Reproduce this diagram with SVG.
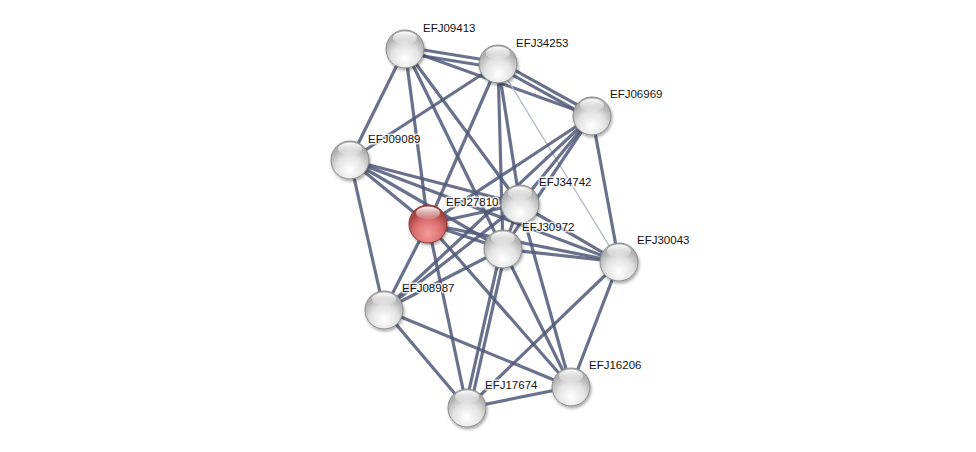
<svg xmlns="http://www.w3.org/2000/svg" width="976" height="452" viewBox="0 0 976 452">
<defs>
<style>
.e{stroke:#4f5878;stroke-width:3.2;stroke-opacity:0.85;fill:none;stroke-linecap:round}
.t{stroke:#b3b8c8;stroke-width:1.3;fill:none}
.lbl{font-family:"Liberation Sans",Arial,sans-serif;font-size:11.5px;fill:#111;stroke:#fff;stroke-width:3;stroke-opacity:0.8;paint-order:stroke;stroke-linejoin:round}
.ball{fill:url(#gw);stroke:#8a8a8a;stroke-width:1}
.red{fill:url(#gr);stroke:#8a3838;stroke-width:1}
.hl{fill:url(#gh)}
</style>
<radialGradient id="gw" cx="50%" cy="75%" r="60%">
<stop offset="0" stop-color="#ffffff"/>
<stop offset="0.6" stop-color="#e2e2e2"/>
<stop offset="1" stop-color="#b0b0b0"/>
</radialGradient>
<radialGradient id="gr" cx="50%" cy="75%" r="60%">
<stop offset="0" stop-color="#f49a9a"/>
<stop offset="0.6" stop-color="#dc7070"/>
<stop offset="1" stop-color="#a84444"/>
</radialGradient>
<linearGradient id="gh" x1="0" y1="0" x2="0" y2="1">
<stop offset="0" stop-color="#ffffff" stop-opacity="0.95"/>
<stop offset="1" stop-color="#ffffff" stop-opacity="0.1"/>
</linearGradient>
<filter id="sh" x="-30%" y="-30%" width="160%" height="160%">
<feDropShadow dx="1" dy="2" stdDeviation="1.5" flood-color="#000" flood-opacity="0.35"/>
</filter>
</defs>
<rect width="976" height="452" fill="#fff"/>
<g id="edges">
<line class="e" x1="405" y1="47" x2="498" y2="62"/>
<line class="e" x1="405" y1="53" x2="498" y2="68"/>
<line class="e" x1="405" y1="49" x2="592" y2="116"/>
<line class="e" x1="405" y1="49" x2="350" y2="160"/>
<line class="e" x1="405" y1="49" x2="428" y2="224"/>
<line class="e" x1="405" y1="49" x2="503" y2="249"/>
<line class="e" x1="405" y1="49" x2="520" y2="204"/>
<line class="e" x1="498" y1="61" x2="592" y2="113"/>
<line class="e" x1="498" y1="67" x2="592" y2="119"/>
<line class="e" x1="498" y1="64" x2="350" y2="160"/>
<line class="e" x1="498" y1="64" x2="428" y2="224"/>
<line class="e" x1="498" y1="64" x2="520" y2="204"/>
<line class="e" x1="498" y1="64" x2="503" y2="249"/>
<line class="t" x1="498" y1="64" x2="619" y2="262"/>
<line class="e" x1="592" y1="116" x2="428" y2="224"/>
<line class="e" x1="592" y1="116" x2="520" y2="204"/>
<line class="e" x1="592" y1="116" x2="503" y2="249"/>
<line class="e" x1="592" y1="116" x2="384" y2="310"/>
<line class="e" x1="592" y1="116" x2="619" y2="262"/>
<line class="e" x1="350" y1="160" x2="428" y2="224"/>
<line class="e" x1="350" y1="160" x2="520" y2="204"/>
<line class="e" x1="350" y1="160" x2="503" y2="249"/>
<line class="e" x1="350" y1="160" x2="619" y2="262"/>
<line class="e" x1="350" y1="160" x2="384" y2="310"/>
<line class="e" x1="428" y1="224" x2="520" y2="204"/>
<line class="e" x1="428" y1="224" x2="503" y2="249"/>
<line class="e" x1="428" y1="224" x2="619" y2="262"/>
<line class="e" x1="428" y1="224" x2="384" y2="310"/>
<line class="e" x1="428" y1="224" x2="571" y2="387"/>
<line class="e" x1="428" y1="224" x2="467" y2="408"/>
<line class="e" x1="520" y1="204" x2="503" y2="249"/>
<line class="e" x1="520" y1="204" x2="619" y2="262"/>
<line class="e" x1="520" y1="204" x2="384" y2="310"/>
<line class="e" x1="520" y1="204" x2="571" y2="387"/>
<line class="e" x1="503" y1="249" x2="619" y2="262"/>
<line class="e" x1="503" y1="249" x2="384" y2="310"/>
<line class="e" x1="503" y1="249" x2="571" y2="387"/>
<line class="e" x1="501" y1="249" x2="465" y2="408"/>
<line class="e" x1="506" y1="249" x2="470" y2="408"/>
<line class="e" x1="619" y1="262" x2="571" y2="387"/>
<line class="e" x1="619" y1="262" x2="467" y2="408"/>
<line class="e" x1="384" y1="310" x2="571" y2="387"/>
<line class="e" x1="384" y1="310" x2="467" y2="408"/>
<line class="e" x1="571" y1="387" x2="467" y2="408"/>
</g>
<g id="n_EFJ09413" filter="url(#sh)"><circle class="ball" cx="405" cy="49" r="19"/><ellipse class="hl" cx="405" cy="38" rx="12" ry="6.5"/></g>
<g id="n_EFJ34253" filter="url(#sh)"><circle class="ball" cx="498" cy="64" r="19"/><ellipse class="hl" cx="498" cy="53" rx="12" ry="6.5"/></g>
<g id="n_EFJ06969" filter="url(#sh)"><circle class="ball" cx="592" cy="116" r="19"/><ellipse class="hl" cx="592" cy="105" rx="12" ry="6.5"/></g>
<g id="n_EFJ09089" filter="url(#sh)"><circle class="ball" cx="350" cy="160" r="19"/><ellipse class="hl" cx="350" cy="149" rx="12" ry="6.5"/></g>
<g id="n_EFJ34742" filter="url(#sh)"><circle class="ball" cx="520" cy="204" r="19"/><ellipse class="hl" cx="520" cy="193" rx="12" ry="6.5"/></g>
<g id="n_EFJ27810" filter="url(#sh)"><circle class="red" cx="428" cy="224" r="19"/><ellipse class="hl" cx="428" cy="213" rx="12" ry="6.5"/></g>
<g id="n_EFJ30972" filter="url(#sh)"><circle class="ball" cx="503" cy="249" r="19"/><ellipse class="hl" cx="503" cy="238" rx="12" ry="6.5"/></g>
<g id="n_EFJ30043" filter="url(#sh)"><circle class="ball" cx="619" cy="262" r="19"/><ellipse class="hl" cx="619" cy="251" rx="12" ry="6.5"/></g>
<g id="n_EFJ08987" filter="url(#sh)"><circle class="ball" cx="384" cy="310" r="19"/><ellipse class="hl" cx="384" cy="299" rx="12" ry="6.5"/></g>
<g id="n_EFJ16206" filter="url(#sh)"><circle class="ball" cx="571" cy="387" r="19"/><ellipse class="hl" cx="571" cy="376" rx="12" ry="6.5"/></g>
<g id="n_EFJ17674" filter="url(#sh)"><circle class="ball" cx="467" cy="408" r="19"/><ellipse class="hl" cx="467" cy="397" rx="12" ry="6.5"/></g>
<g id="labels">
<text class="lbl" x="423" y="32">EFJ09413</text>
<text class="lbl" x="516" y="47">EFJ34253</text>
<text class="lbl" x="610" y="98">EFJ06969</text>
<text class="lbl" x="368" y="143">EFJ09089</text>
<text class="lbl" x="539" y="186">EFJ34742</text>
<text class="lbl" x="446" y="206">EFJ27810</text>
<text class="lbl" x="522" y="231">EFJ30972</text>
<text class="lbl" x="637" y="244">EFJ30043</text>
<text class="lbl" x="402" y="292">EFJ08987</text>
<text class="lbl" x="589" y="369">EFJ16206</text>
<text class="lbl" x="485" y="389">EFJ17674</text>
</g>
</svg>
